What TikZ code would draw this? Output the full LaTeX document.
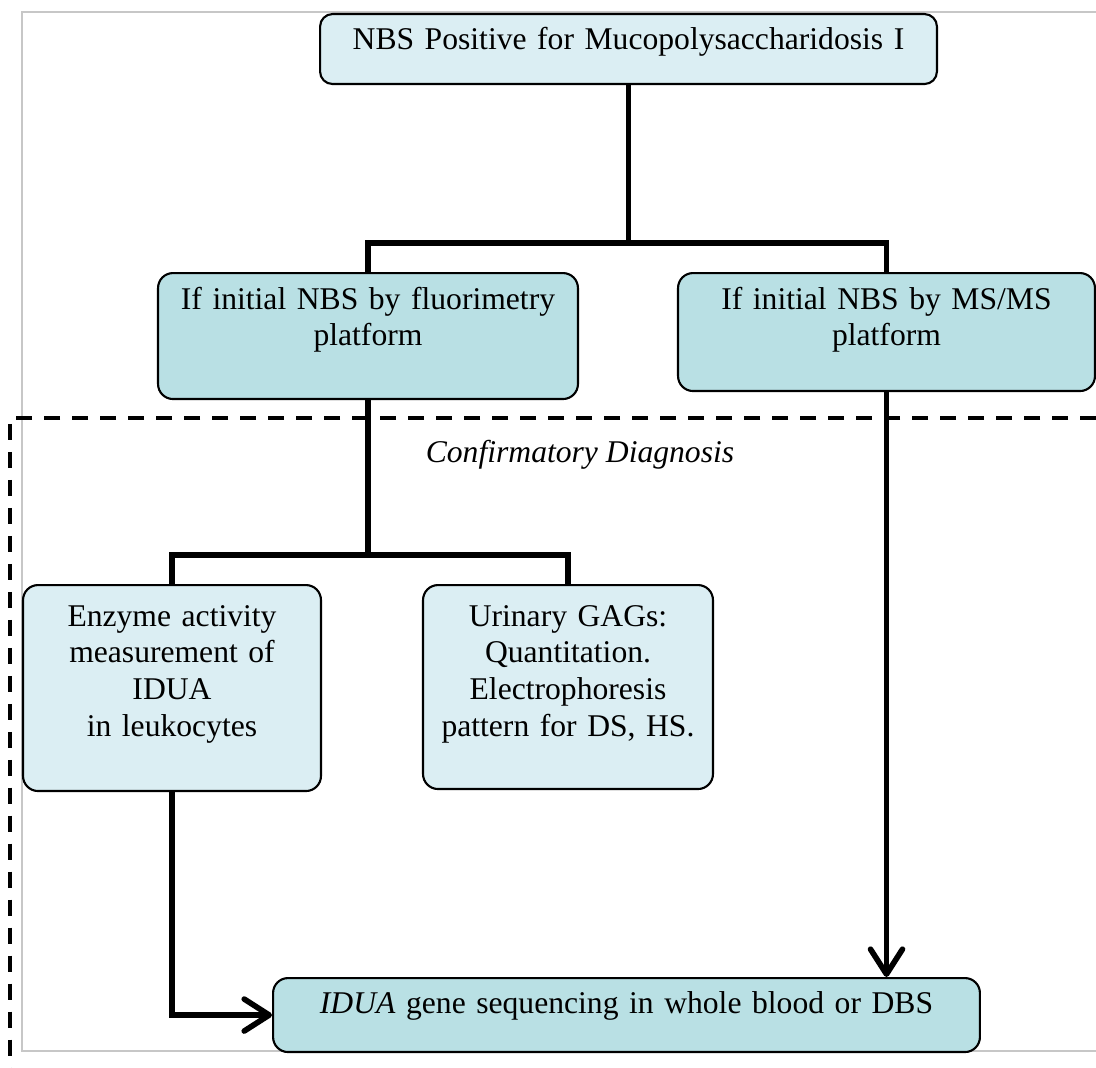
\documentclass[tikz,border=0pt]{standalone}
\usepackage{fontspec}
\setmainfont{Liberation Serif}
\usepackage{xcolor}
\definecolor{lightaqua}{RGB}{219,238,243}
\definecolor{midaqua}{RGB}{185,224,228}
\definecolor{framegray}{gray}{.78}
\usetikzlibrary{arrows.meta}
\newcommand{\boxfont}{\fontsize{18}{21}\selectfont}
\tikzset{
    common/.style={draw, line width=1.2pt, rounded corners=0.3cm, anchor=north, align=center,
        inner xsep=0pt, inner ysep=0pt, font=\boxfont},
    entry/.style={common, fill=lightaqua},
    platform/.style={common, fill=midaqua},
    link/.style={line width=3.2pt},
    linkarrow/.style={link, -{Straight Barb[length=5mm, width=6.4mm, round]}},
    zone/.style={line width=2.5pt, dash pattern=on 0.32cm off 0.24cm}
}

\begin{document}
\begin{tikzpicture}[x=0.02cm, y=-0.02cm]
    \useasboundingbox (0,0) rectangle (1096,1068);
    \draw[framegray, line width=0.8pt] (1096,12) -- (22,12) -- (22,1051) -- (1096,1051);

    \node[entry, rounded corners=0.25cm, text width=12.34cm, text height=0.7cm, text depth=0.7cm]
        (nbs) at (628.5,13) {NBS Positive for Mucopolysaccharidosis I};
    \node[platform, text width=8.4cm, text height=0.72cm, text depth=1.8cm]
        (fluor) at (368,272) {If initial NBS by fluorimetry\\platform};
    \node[platform, text width=8.34cm, text height=0.72cm, text depth=1.64cm]
        (msms) at (886.5,272) {If initial NBS by MS/MS\\platform};
    \node[entry, text width=5.96cm, text height=0.82cm, text depth=3.3cm]
        (enzyme) at (172,584) {Enzyme activity\\measurement of\\IDUA\\in leukocytes};
    \node[entry, text width=5.8cm, text height=0.82cm, text depth=3.26cm]
        (urinary) at (568,584) {Urinary GAGs:\\Quantitation.\\Electrophoresis\\pattern for DS, HS.};
    \node[platform, text width=14.14cm, text height=0.7cm, text depth=0.78cm]
        (idua) at (626.5,977) {\textit{IDUA} gene sequencing in whole blood or DBS};

    % confirmatory zone
    \draw[zone] (1096,418) -- (10,418) -- (10,1068);
    \node[font=\boxfont\itshape, anchor=base] (confirm) at (580,462) {Confirmatory Diagnosis};

    \coordinate (split1) at (628.5,243);
    \coordinate (split2) at (368,555);
    \draw[link] (nbs.south) -- (split1) -| (fluor.north);
    \draw[link] (split1) -| (msms.north);
    \draw[link] (fluor.south) -- (split2) -| (enzyme.north);
    \draw[link] (split2) -| (urinary.north);
    \draw[linkarrow] (enzyme.south) |- (idua.west);
    \draw[linkarrow] (msms.south) -- (msms.south |- idua.north);
\end{tikzpicture}
\end{document}
